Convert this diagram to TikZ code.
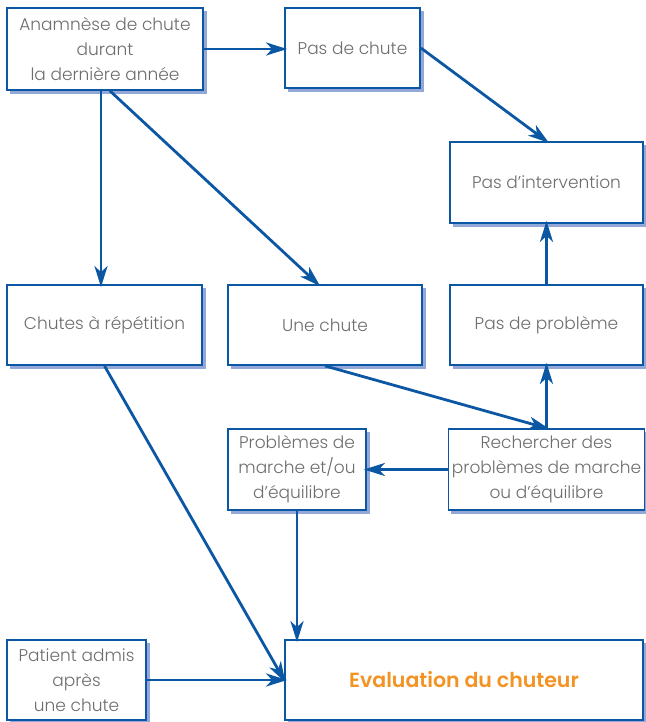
\documentclass[tikz,border=0pt]{standalone}
\usepackage{fontspec}
\setmainfont{Poppins Light}[BoldFont={Poppins SemiBold}]
\usetikzlibrary{arrows.meta,backgrounds}
\definecolor{bl}{HTML}{0B57A4}
\definecolor{sh}{HTML}{93A8D8}
\definecolor{tx}{HTML}{6E6E6E}
\definecolor{org}{HTML}{F39323}
\tikzset{
  box/.style={draw=bl, line width=1.8pt, fill=white, align=center, text=tx,
    font=\fontsize{17}{25}\selectfont},
  arr/.style={draw=bl, line width=2.8pt, shorten >=-3pt, -{Stealth[length=21pt,width=13pt,inset=6pt]}},
  shad/.style={fill=sh}
}
\begin{document}
\begin{tikzpicture}[x=1pt,y=-1pt]
\useasboundingbox (0,0) rectangle (645,722);
\node[box, minimum width=196pt, minimum height=82pt] (A) at (105,49) {Anamnèse de chute\\durant\\la dernière année};
\node[box, minimum width=135pt, minimum height=80pt] (B) at (352.5,48) {Pas de chute};
\node[box, minimum width=193pt, minimum height=81pt] (C) at (546.5,182.5) {Pas d’intervention};
\node[box, minimum width=195pt, minimum height=80pt] (D) at (104.5,325) {Chutes à répétition};
\node[box, minimum width=194pt, minimum height=80pt] (E) at (325,325) {Une chute};
\node[box, minimum width=193pt, minimum height=80pt] (F) at (546.5,325) {Pas de problème};
\node[box, minimum width=138pt, minimum height=81pt] (G) at (297,469.5) {Problèmes de\\marche et/ou\\d’équilibre};
\node[box, minimum width=193pt, minimum height=81pt] (H) at (546.5,469.5) {Rechercher des\\problèmes de marche\\ou d’équilibre};
\node[box, minimum width=139pt, minimum height=80pt] (I) at (76.5,680) {Patient admis\\après\\une chute};
\node[box, minimum width=358pt, minimum height=80pt, text=org, font=\fontsize{20.5}{25}\selectfont\bfseries] (J) at (464,680) {Evaluation du chuteur};

\begin{scope}[on background layer]
\foreach \n in {A,B,C,D,E,F,G,H,I,J}
  \fill[shad] ([shift={(3.5pt,-3.5pt)}]\n.south west) rectangle ([shift={(3.5pt,-3.5pt)}]\n.north east);
\end{scope}

\draw[arr] (A.east) -- (B.west |- A.east);
\draw[arr] (B.east) -- (C.north);
\draw[arr] ([xshift=-4pt]A.south) -- ([xshift=-4pt]A.south |- D.north);
\draw[arr] ([xshift=5pt]A.south) -- ([xshift=-7pt]E.north);
\draw[arr] (F.north) -- (C.south);
\draw[arr] (E.south) -- (H.north);
\draw[arr] (H.north) -- (F.south);
\draw[arr] (H.west) -- (G.east);
\draw[arr] (G.south) -- (G.south |- J.north);
\draw[arr] (D.south) -- (J.west);
\draw[arr] (I.east) -- (I.east -| J.west);
\end{tikzpicture}
\end{document}
